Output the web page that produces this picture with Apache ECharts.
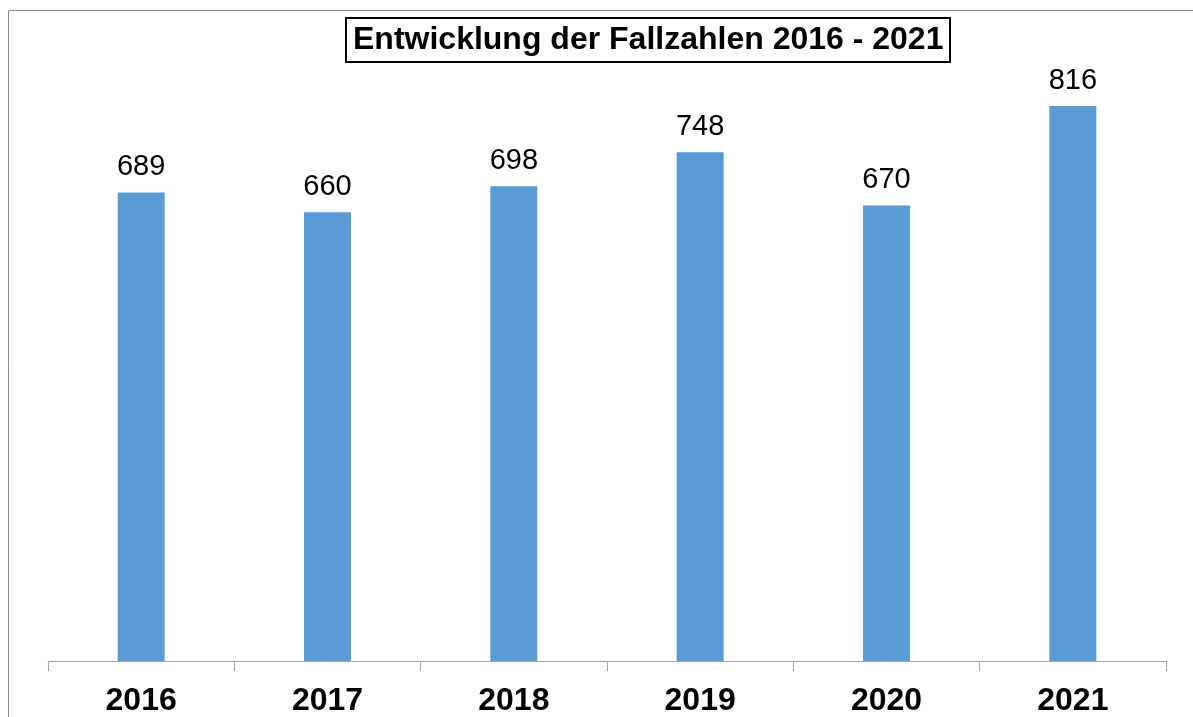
<!DOCTYPE html>
<html>
<head>
<meta charset="utf-8">
<script src="https://cdn.jsdelivr.net/npm/echarts@6/dist/echarts.min.js"></script>
<style>
html, body { margin: 0; padding: 0; background: #fff; }
#chart { width: 1193px; height: 717px; }
</style>
</head>
<body>
<div id="chart"></div>
<script>
var chart = echarts.init(document.getElementById('chart'));

var years = ['2016', '2017', '2018', '2019', '2020', '2021'];
var cases = [689, 660, 698, 748, 670, 816];
var titleText = 'Entwicklung der Fallzahlen 2016 - 2021';

var option = {
    backgroundColor: '#fff',
    animation: false,
    title: {
        text: titleText,
        left: 346,
        top: 18,
        padding: [6, 7, 6, 7],
        borderColor: '#000',
        borderWidth: 2,
        textStyle: {
            fontFamily: 'Liberation Sans',
            fontWeight: 'bold',
            fontSize: 32,
            color: '#000'
        }
    },
    graphic: [
        {
            type: 'rect',
            shape: { x: 8.5, y: 10.5, width: 1200, height: 800 },
            style: { fill: 'none', stroke: '#8c8c8c', lineWidth: 1 },
            z: -1
        }
    ],
    grid: {
        left: 48,
        right: 27,
        top: 49,
        bottom: 55
    },
    xAxis: {
        type: 'category',
        data: years,
        axisLine: { lineStyle: { color: '#a6a6a6', width: 1 } },
        axisTick: { show: true, length: 10, lineStyle: { color: '#a6a6a6' } },
        axisLabel: {
            margin: 24,
            fontFamily: 'Liberation Sans',
            fontWeight: 'bold',
            fontSize: 32,
            color: '#000'
        }
    },
    yAxis: {
        type: 'value',
        min: 0,
        max: 900,
        show: false,
        splitLine: { show: false }
    },
    series: [
        {
            type: 'bar',
            data: cases,
            barWidth: 47,
            itemStyle: { color: '#5b9bd5' },
            label: {
                show: true,
                position: 'top',
                distance: 11,
                fontFamily: 'Liberation Sans',
                fontSize: 29,
                color: '#000'
            }
        }
    ]
};
chart.setOption(option);
</script>
</body>
</html>
